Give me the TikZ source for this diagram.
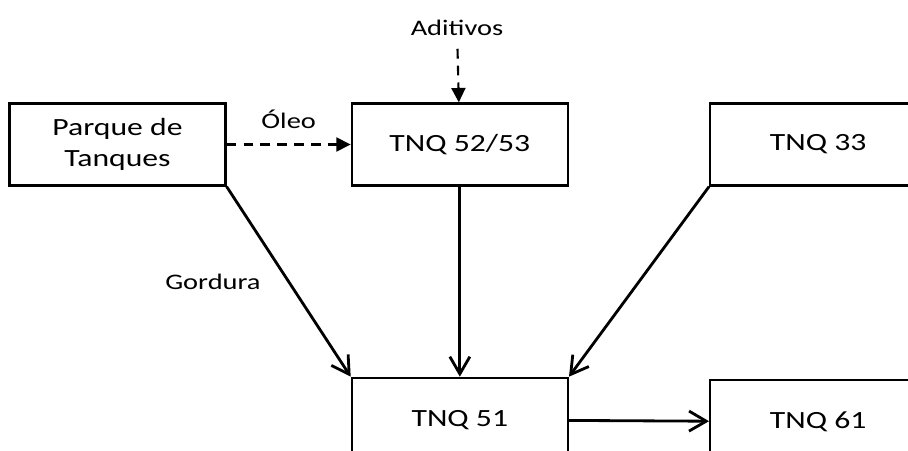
\documentclass[tikz,border=0pt]{standalone}
\usepackage{fontspec}
\setmainfont{Carlito}[FakeStretch=1.28]
\usetikzlibrary{arrows.meta,positioning}

\begin{document}
\begin{tikzpicture}[x=0.025cm, y=-0.025cm, node distance=3cm, >={Straight Barb[length=0.43cm,width=0.5cm]}]
    \tikzstyle{tank}  = [draw, rectangle, line width=1.6pt, minimum width=5.4cm, minimum height=2.05cm, align=center, font=\fontsize{17.6}{21.5}\selectfont, inner sep=2pt]
    \tikzstyle{flow}  = [line width=2pt, ->]
    \tikzstyle{extra} = [line width=1.5pt, dash pattern=on 7pt off 5pt, -{Triangle[length=0.36cm,width=0.35cm]}]
    \tikzstyle{lbl}   = [font=\fontsize{15.8}{19}\selectfont]

    \useasboundingbox (0,0) rectangle (908,451);

    \node [tank] (parque) at (117.5,144.5) {Parque de\\Tanques};
    \node [tank, right=3.1cm of parque] (tnq5253) {TNQ 52/53};
    \node [tank, right=3.5cm of tnq5253] (tnq33) {TNQ 33};
    \node [tank, below=4.75cm of tnq5253, minimum height=2.1cm] (tnq51) {TNQ 51};
    \node [tank, right=3.5cm of tnq51, minimum height=2.1cm, yshift=-0.05cm] (tnq61) {TNQ 61};
    \node [lbl] (aditivos) at (457,28) {Aditivos};

    \draw [extra, shorten <=0.2cm] (aditivos) -- (tnq5253);
    \draw [extra] (parque) -- node[lbl, above=0.25cm] {Óleo} (tnq5253);

    \draw [flow] (parque.south east) -- node[lbl, left=0.55cm] {Gordura} (tnq51.north west);
    \draw [flow] (tnq5253) -- (tnq51);
    \draw [flow] (tnq33.south west) -- (tnq51.north east);
    \draw [flow] (tnq51) -- (tnq61);
\end{tikzpicture}
\end{document}
